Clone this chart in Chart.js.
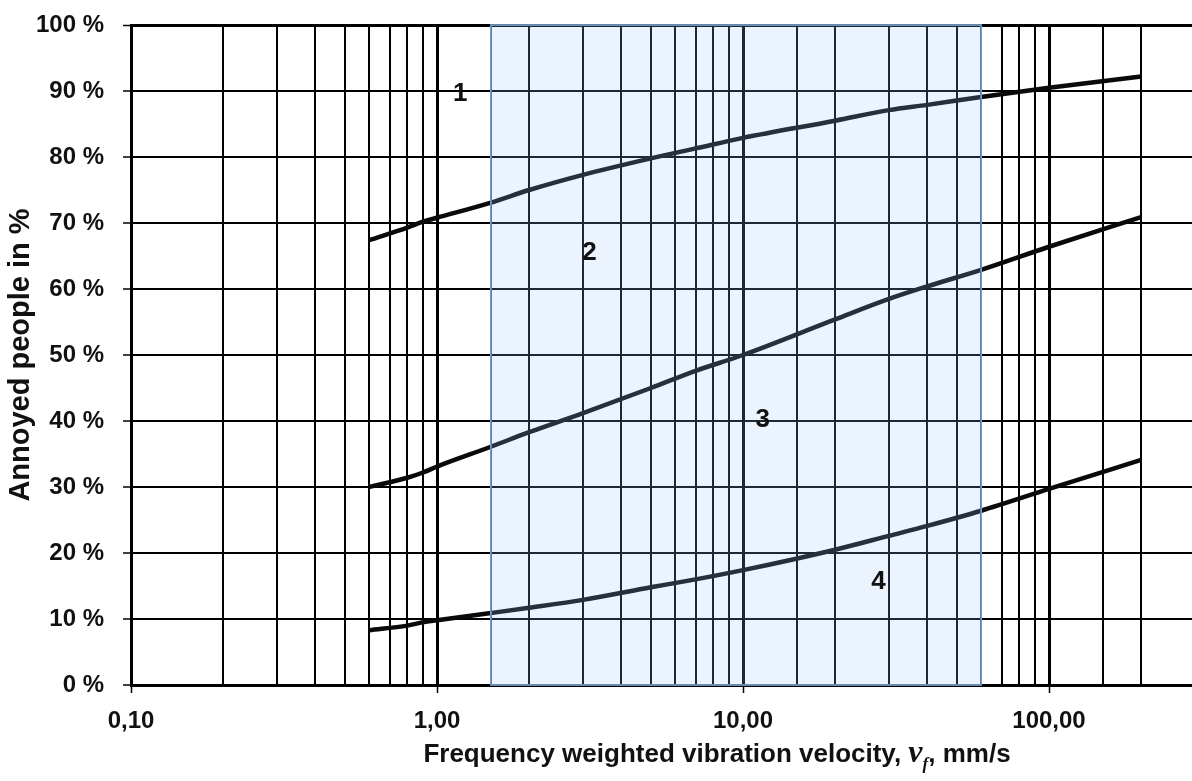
<!DOCTYPE html>
<html>
<head>
<meta charset="utf-8">
<script src="https://cdn.jsdelivr.net/npm/chart.js@4"></script>
<style>
    body {
        margin: 0;
        overflow: hidden;
        background: #ffffff;
        font-family: 'Liberation Sans', Arial, sans-serif;
    }
    #chart_wrap {
        position: relative;
        width: 1209px;
        height: 781px;
    }
    #x_title {
        position: absolute;
        left: 0;
        width: 1434px;
        top: 733px;
        text-align: center;
        font-weight: bold;
        font-size: 26px;
        color: #111;
        white-space: nowrap;
    }
    #x_title i {
        font-family: 'Liberation Serif', 'Times New Roman', serif;
        font-size: 32px;
        font-weight: bold;
    }
    #x_title sub {
        font-size: 17px;
    }
</style>
</head>
<body>
<div id="chart_wrap">
    <canvas id="annoyance_chart"></canvas>
    <div id="x_title">Frequency weighted vibration velocity, <i>v<sub>f</sub></i>, mm/s</div>
</div>
<script>
/**
 * values: velocity in mm/s and annoyed people in %
 */
let velocityValues = [0.6, 0.8, 0.9, 1, 1.5, 2, 3, 5, 7, 10, 20, 30, 40, 60, 100, 200];
let curveTop = [67.4, 69.3, 70.2, 70.8, 73.1, 75.0, 77.3, 79.8, 81.3, 82.9, 85.5, 87.1, 87.9, 89.1, 90.5, 92.2];
let curveMiddle = [30.0, 31.4, 32.2, 33.1, 36.1, 38.3, 41.2, 45.0, 47.6, 50.0, 55.4, 58.5, 60.4, 62.9, 66.4, 70.9];
let curveBottom = [8.3, 9.0, 9.5, 9.8, 10.9, 11.7, 12.9, 14.8, 16.0, 17.4, 20.5, 22.6, 24.1, 26.4, 29.7, 34.1];

let zoneLabels = ['1', '2', '3', '4'];
let zoneLabelX = [1.19, 3.15, 11.6, 27.7];
let zoneLabelY = [89.6, 65.5, 40.2, 15.7];

let bandStart = 1.5;
let bandEnd = 60;

let tickFont = "'Liberation Sans', Arial, sans-serif";


function isDecade(value) {
    let l = Math.log10(value);
    return Math.abs(l - Math.round(l)) < 1e-9;
}


function curveDataset(values) {
    return {
        data: values,
        borderColor: '#0a0a0a',
        borderWidth: 4.5,
        pointRadius: 0,
        cubicInterpolationMode: 'monotone',
        fill: false
    };
}


/**
 * light blue band drawn over grid and curves, then the zone numbers
 */
const bandPlugin = {
    id: 'band',
    afterDatasetsDraw(chart) {
        let ctx = chart.ctx;
        let x = chart.scales.x;
        let area = chart.chartArea;
        let left = x.getPixelForValue(bandStart);
        let right = x.getPixelForValue(bandEnd);
        ctx.save();
        ctx.fillStyle = 'rgba(155, 200, 250, 0.2)';
        ctx.fillRect(left, area.top, right - left, area.bottom - area.top);
        ctx.strokeStyle = 'rgb(130, 180, 228)';
        ctx.lineWidth = 1.5;
        ctx.strokeRect(left, area.top, right - left, area.bottom - area.top);
        ctx.restore();
    },
    afterDraw(chart) {
        let ctx = chart.ctx;
        ctx.save();
        ctx.font = "bold 26px " + tickFont;
        ctx.fillStyle = '#111111';
        ctx.textAlign = 'center';
        ctx.textBaseline = 'middle';
        for (let i = 0; i < zoneLabels.length; i++) {
            ctx.fillText(zoneLabels[i],
                chart.scales.x.getPixelForValue(zoneLabelX[i]),
                chart.scales.y.getPixelForValue(zoneLabelY[i]));
        }
        ctx.restore();
    }
};


const chartConfig = {
    type: 'line',
    data: {
        labels: velocityValues,
        datasets: [
            curveDataset(curveTop),
            curveDataset(curveMiddle),
            curveDataset(curveBottom)
        ]
    },
    options: {
        responsive: true,
        maintainAspectRatio: false,
        animation: false,
        layout: {
            padding: { top: 25, right: 0, left: 0, bottom: 0 }
        },
        scales: {
            x: {
                type: 'logarithmic',
                min: 0.1,
                max: 300,
                afterFit(scale) { scale.height = 96; },
                border: { color: '#000', width: 3 },
                grid: {
                    color: '#000',
                    lineWidth: (c) => c.tick && isDecade(c.tick.value) ? 3 : 2,
                    tickLength: 8,
                    tickColor: (c) => c.tick && isDecade(c.tick.value) ? '#000' : 'rgba(0,0,0,0)',
                    tickWidth: 1.5
                },
                ticks: {
                    autoSkip: false,
                    maxRotation: 0,
                    padding: 14,
                    color: '#111',
                    font: { family: tickFont, size: 24, weight: 'bold' },
                    callback: function (value) {
                        return isDecade(value) ? value.toFixed(2).replace('.', ',') : '';
                    }
                }
            },
            y: {
                min: 0,
                max: 100,
                afterFit(scale) {
                    scale.width = 131;
                    scale.paddingTop = 0;
                    scale.paddingBottom = 0;
                },
                border: { color: '#000', width: 3 },
                grid: {
                    color: '#000',
                    lineWidth: (c) => c.tick && c.tick.value === 100 ? 3 : 2,
                    tickLength: 8,
                    tickWidth: 1.5
                },
                ticks: {
                    stepSize: 10,
                    padding: 19,
                    color: '#111',
                    font: { family: tickFont, size: 24, weight: 'bold' },
                    callback: (value) => value + ' %'
                },
                title: {
                    display: true,
                    text: 'Annoyed people in %',
                    color: '#111',
                    font: { family: tickFont, size: 29, weight: 'bold' },
                    padding: { top: 4, bottom: 0 }
                }
            }
        },
        plugins: {
            legend: { display: false },
            tooltip: { enabled: false }
        }
    },
    plugins: [bandPlugin]
};


const annoyanceChart = new Chart(
    document.getElementById('annoyance_chart'),
    chartConfig
);
</script>
</body>
</html>
